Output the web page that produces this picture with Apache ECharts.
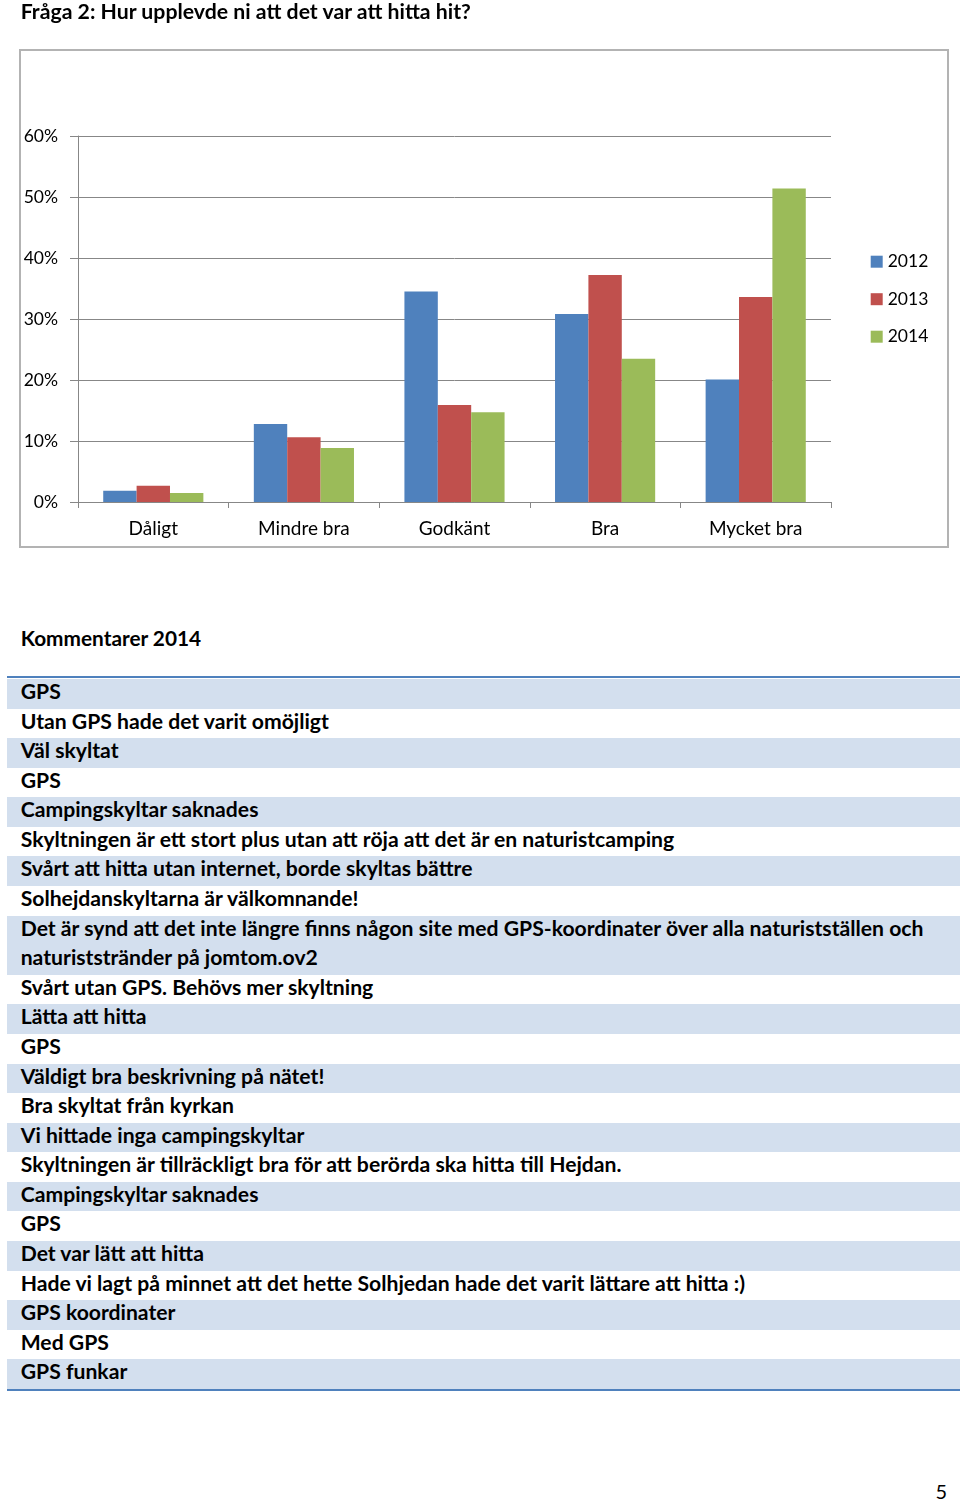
<!DOCTYPE html>
<html>
<head>
<meta charset="utf-8">
<script src="https://cdn.jsdelivr.net/npm/echarts@6/dist/echarts.min.js"></script>
<style>
  html, body { margin: 0; padding: 0; background: #fff; }
  body { width: 960px; height: 1501px; position: relative; overflow: hidden; }
  #chart { position: absolute; left: 0; top: 0; width: 960px; height: 560px; }
  .t { position: absolute; white-space: pre; color: #000; }
</style>
</head>
<body>
<div id="chart"></div>
<script>
// ---------------- data ----------------
const pageTitle = "Fråga 2: Hur upplevde ni att det var att hitta hit?";
const categories = ["Dåligt", "Mindre bra", "Godkänt", "Bra", "Mycket bra"];
const seriesNames = ["2012", "2013", "2014"];
const values2012 = [0.0185, 0.128, 0.345, 0.308, 0.201];
const values2013 = [0.0267, 0.106, 0.159, 0.372, 0.336];
const values2014 = [0.0147, 0.0885, 0.147, 0.235, 0.514];
const yMin = 0, yMax = 0.6, yInterval = 0.1;
const commentsTitle = "Kommentarer 2014";
const comments = [
  "GPS",
  "Utan GPS hade det varit omöjligt",
  "Väl skyltat",
  "GPS",
  "Campingskyltar saknades",
  "Skyltningen är ett stort plus utan att röja att det är en naturistcamping",
  "Svårt att hitta utan internet, borde skyltas bättre",
  "Solhejdanskyltarna är välkomnande!",
  "Det är synd att det inte längre finns någon site med GPS-koordinater över alla naturistställen och\nnaturiststränder på jomtom.ov2",
  "Svårt utan GPS. Behövs mer skyltning",
  "Lätta att hitta",
  "GPS",
  "Väldigt bra beskrivning på nätet!",
  "Bra skyltat från kyrkan",
  "Vi hittade inga campingskyltar",
  "Skyltningen är tillräckligt bra för att berörda ska hitta till Hejdan.",
  "Campingskyltar saknades",
  "GPS",
  "Det var lätt att hitta",
  "Hade vi lagt på minnet att det hette Solhjedan hade det varit lättare att hitta :)",
  "GPS koordinater",
  "Med GPS",
  "GPS funkar"
];
const pageNumber = "5";
const seriesColors = ["#4F81BD", "#C0504D", "#9BBB59"];

// ---------------- fonts ----------------
const FAMILY = "Lato";
const ctx = document.createElement("canvas").getContext("2d");
function measure(text, weight, size) {
  ctx.font = weight + " " + size + "px " + FAMILY;
  return ctx.measureText(text);
}
function fitSize(text, weight, target) {
  return 20 * target / measure(text, weight, 20).width;
}
const titleSize = fitSize(pageTitle, "bold", 452);
const bodySize = (fitSize(comments[5], "bold", 656.6) + fitSize(comments[8].split("\n")[0], "bold", 902.6)) / 2;
const kommSize = fitSize(commentsTitle, "bold", 181);
const catSize = fitSize("Mindre bra", "normal", 91.6);
const yLabSize = fitSize("60%", "normal", 34.4);
const legSize = fitSize("2012", "normal", 40.6);

function addText(str, x, baseline, size, weight, alignRight) {
  const m = measure(str, weight, size);
  const asc = m.fontBoundingBoxAscent || size * 0.99;
  const desc = m.fontBoundingBoxDescent || size * 0.21;
  const d = document.createElement("div");
  d.className = "t";
  d.textContent = str;
  d.style.fontFamily = FAMILY;
  d.style.fontWeight = weight;
  d.style.fontSize = size + "px";
  d.style.lineHeight = (asc + desc) + "px";
  d.style.top = (baseline - asc) + "px";
  if (alignRight) d.style.right = (960 - x) + "px"; else d.style.left = x + "px";
  document.body.appendChild(d);
}
function addBox(x, y, w, h, color) {
  const d = document.createElement("div");
  d.style.cssText = "position:absolute;left:" + x + "px;top:" + y + "px;width:" + w + "px;height:" + h + "px;background:" + color;
  document.body.appendChild(d);
}

// ---------------- page text ----------------
addText(pageTitle, 20.7, 19, titleSize, "bold");
addText(commentsTitle, 20.7, 646, kommSize, "bold");

const rowLine = 29.58;
let y = 679;
addBox(7, 676.3, 953, 2, "#4F81BD");
comments.forEach((c, i) => {
  const lines = c.split("\n");
  const h = lines.length * rowLine;
  if (i % 2 === 0) addBox(7, y, 953, h, "#D3DFEE");
  lines.forEach((ln, k) => addText(ln, 20.7, y + 20 + k * rowLine, bodySize, "bold"));
  y += h;
});
addBox(7, y, 953, 2, "#4F81BD");
addText(pageNumber, 947, 1499, catSize * 1.05, "normal", true);

// ---------------- chart ----------------
const chart = echarts.init(document.getElementById("chart"), null, { renderer: "canvas" });
const gridColor = "#878787";
const seriesData = [values2012, values2013, values2014];
chart.setOption({
  animation: false,
  textStyle: { fontFamily: FAMILY },
  graphic: [{
    type: "rect", z: -10,
    shape: { x: 20, y: 50, width: 928, height: 497 },
    style: { fill: "#fff", stroke: "#b3b3b3", lineWidth: 2 }
  }],
  grid: { left: 78, right: 129, top: 136, bottom: 58 },
  legend: {
    orient: "vertical", left: 865.7, top: 246.7, padding: 5,
    itemWidth: 12, itemHeight: 12, itemGap: 17.5, icon: "rect",
    textStyle: { fontSize: legSize, lineHeight: 20, color: "#000", fontFamily: FAMILY },
    data: seriesNames
  },
  xAxis: {
    type: "category", data: categories,
    axisLine: { lineStyle: { color: gridColor, width: 1 } },
    axisTick: { show: true, length: 6, lineStyle: { color: gridColor } },
    axisLabel: { fontSize: catSize, color: "#000", margin: 17, fontFamily: FAMILY }
  },
  yAxis: {
    type: "value", min: yMin, max: yMax, interval: yInterval,
    axisLine: { show: true, lineStyle: { color: gridColor } },
    axisTick: { show: true, length: 8, lineStyle: { color: gridColor } },
    splitLine: { show: true, lineStyle: { color: gridColor } },
    axisLabel: { fontSize: yLabSize, color: "#000", margin: 20, fontFamily: FAMILY,
      formatter: v => Math.round(v * 100) + "%" }
  },
  series: seriesNames.map((name, i) => ({
    name: name, type: "bar", data: seriesData[i],
    barGap: "0%", barCategoryGap: "33.5%",
    itemStyle: { color: seriesColors[i] }
  }))
});
</script>
</body>
</html>
